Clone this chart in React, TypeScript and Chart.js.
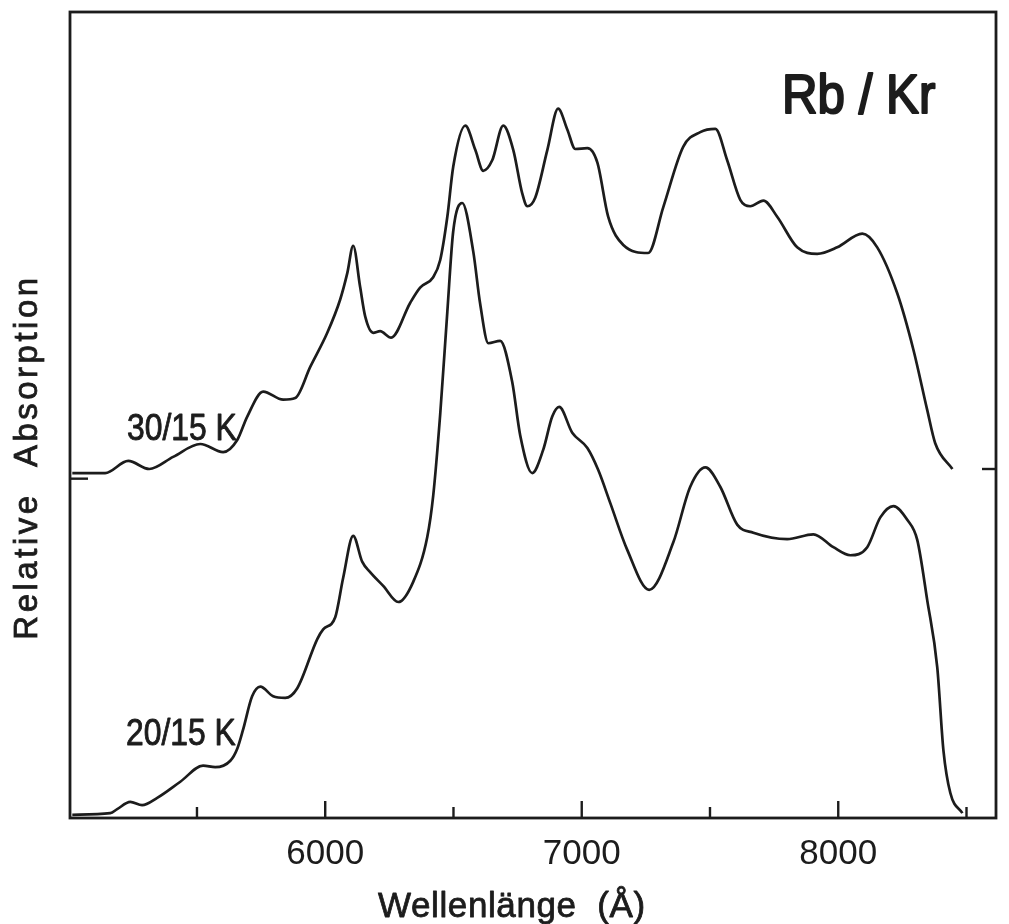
import React, { useEffect, useRef } from "react";
import { Chart, registerables } from "chart.js";

Chart.register(...registerables);

// ---- data ----
const wavelength30 = [5014, 5142, 5232, 5314, 5407, 5513, 5602, 5657, 5696, 5758, 5836, 5883, 5942, 6008, 6058, 6086, 6109, 6136, 6156, 6187, 6214, 6257, 6331, 6370, 6421, 6448, 6476, 6499, 6546, 6585, 6616, 6651, 6694, 6733, 6768, 6788, 6819, 6866, 6908, 6944, 6975, 7022, 7061, 7103, 7162, 7259, 7318, 7396, 7462, 7521, 7567, 7618, 7657, 7708, 7762, 7840, 7918, 7996, 8094, 8152, 8230, 8293, 8347, 8378, 8445];
const absorption30 = [42.8, 42.8, 44.3, 43.3, 44.8, 46.4, 45.4, 46.9, 49.8, 52.9, 51.9, 52.1, 56.0, 60.2, 64.3, 67.6, 71.0, 65.9, 62.2, 60.2, 60.4, 59.6, 63.9, 65.8, 67.1, 69.2, 74.6, 80.8, 85.9, 82.9, 80.3, 81.6, 85.9, 82.9, 77.5, 75.9, 77.0, 82.9, 88.0, 85.4, 83.0, 83.1, 81.3, 74.6, 71.1, 70.1, 75.8, 83.3, 85.1, 85.5, 81.6, 76.7, 75.9, 76.6, 74.6, 70.8, 70.0, 70.8, 72.5, 70.8, 65.1, 58.1, 50.6, 46.5, 43.3];

const wavelength20 = [5014, 5162, 5189, 5240, 5286, 5345, 5435, 5524, 5571, 5630, 5657, 5680, 5715, 5747, 5797, 5844, 5891, 5969, 5992, 6039, 6070, 6109, 6144, 6175, 6226, 6285, 6343, 6398, 6421, 6448, 6476, 6499, 6534, 6577, 6604, 6636, 6682, 6729, 6760, 6807, 6850, 6885, 6912, 6963, 7022, 7064, 7111, 7177, 7263, 7357, 7423, 7482, 7540, 7606, 7669, 7801, 7903, 7981, 8047, 8113, 8164, 8215, 8269, 8308, 8347, 8386, 8410, 8437, 8484];
const absorption20 = [0.4, 0.6, 1.1, 2.0, 1.6, 2.5, 4.5, 6.5, 6.3, 7.1, 8.6, 11.0, 15.1, 16.3, 15.1, 14.9, 16.1, 22.2, 23.4, 24.9, 29.8, 35.0, 31.8, 30.5, 28.8, 26.8, 29.3, 34.9, 40.0, 50.0, 62.8, 72.8, 76.3, 70.3, 63.8, 58.9, 59.2, 54.1, 47.5, 42.8, 45.7, 49.8, 51.0, 47.8, 45.9, 43.2, 39.1, 33.3, 28.3, 34.2, 41.1, 43.5, 41.1, 36.4, 35.4, 34.6, 35.2, 33.6, 32.6, 33.6, 37.3, 38.7, 37.0, 34.5, 27.0, 18.7, 8.4, 3.1, 0.6];

const majorTicks = [6000, 7000, 8000];
const minorTicks = [5500, 6500, 7500, 8500];
const baselineTickLeft = 42.1;
const baselineTickRight = 43.3;

const seriesLabels = ["30/15 K", "20/15 K"];
const chartTitle = "Rb / Kr";
const xTitle = "Wellenlänge  (Å)";
const yTitle = "Relative  Absorption";

const INK = "#1c1c1c";
const FONT = "'Liberation Sans', Arial, sans-serif";

function drawText(ctx: CanvasRenderingContext2D, text: string, x: number, y: number, size: number, sx: number, spacing = 0, thick = 0.8) {
  ctx.save();
  ctx.translate(x, y);
  ctx.scale(sx, 1);
  ctx.font = `normal ${size}px ${FONT}`;
  (ctx as any).letterSpacing = `${spacing}px`;
  ctx.textAlign = "left";
  ctx.textBaseline = "alphabetic";
  ctx.fillStyle = INK;
  ctx.strokeStyle = INK;
  ctx.lineWidth = thick;
  ctx.lineJoin = "round";
  ctx.fillText(text, 0, 0);
  if (thick > 0) ctx.strokeText(text, 0, 0);
  ctx.restore();
}

const decorPlugin = {
  id: "decor",
  afterDraw(chart: any) {
    const { ctx, chartArea: a, scales } = chart;
    const x = scales.x;
    const y = scales.y;
    ctx.save();
    ctx.strokeStyle = INK;
    ctx.lineWidth = 2.8;
    ctx.strokeRect(a.left, a.top, a.right - a.left, a.bottom - a.top);
    const line = (x1: number, y1: number, x2: number, y2: number) => {
      ctx.beginPath();
      ctx.moveTo(x1, y1);
      ctx.lineTo(x2, y2);
      ctx.stroke();
    };
    ctx.lineWidth = 2.4;
    majorTicks.forEach((v) => {
      const px = x.getPixelForValue(v);
      line(px, a.bottom, px, a.bottom - 17);
    });
    minorTicks.forEach((v) => {
      const px = x.getPixelForValue(v);
      line(px, a.bottom, px, a.bottom - 11);
    });
    const yl = y.getPixelForValue(baselineTickLeft);
    line(a.left, yl, a.left + 18, yl);
    const yr = y.getPixelForValue(baselineTickRight);
    line(a.right - 14, yr, a.right, yr);

    drawText(ctx, seriesLabels[0], 127, 440, 37, 0.86, 0, 0.9);
    drawText(ctx, seriesLabels[1], 126, 745, 37, 0.86, 0, 0.9);
    drawText(ctx, chartTitle, 782, 113, 56, 0.88, 0, 2.2);
    drawText(ctx, xTitle, 378, 917, 35, 1, 0.6, 0.8);

    ctx.save();
    ctx.translate(37, 457);
    ctx.rotate(-Math.PI / 2);
    ctx.font = `normal 33px ${FONT}`;
    (ctx as any).letterSpacing = "3.5px";
    ctx.textAlign = "center";
    ctx.textBaseline = "alphabetic";
    ctx.fillStyle = INK;
    ctx.strokeStyle = INK;
    ctx.lineWidth = 0.8;
    ctx.fillText(yTitle, 0, 0);
    ctx.strokeText(yTitle, 0, 0);
    ctx.restore();

    ctx.restore();
  },
};

export default function App() {
  const ref = useRef<HTMLCanvasElement | null>(null);
  useEffect(() => {
    if (!ref.current) return;
    const toPts = (xs: number[], ys: number[]) => xs.map((v, i) => ({ x: v, y: ys[i] }));
    const chart = new Chart(ref.current, {
      type: "line",
      data: {
        datasets: [
          {
            label: seriesLabels[0],
            data: toPts(wavelength30, absorption30),
            borderColor: INK,
            borderWidth: 2.7,
            pointRadius: 0,
            cubicInterpolationMode: "monotone",
            fill: false,
          },
          {
            label: seriesLabels[1],
            data: toPts(wavelength20, absorption20),
            borderColor: INK,
            borderWidth: 2.7,
            pointRadius: 0,
            cubicInterpolationMode: "monotone",
            fill: false,
          },
        ],
      },
      options: {
        responsive: false,
        animation: false,
        devicePixelRatio: 1,
        layout: { padding: { left: 70, top: 12, right: 13, bottom: 0 } },
        plugins: { legend: { display: false }, tooltip: { enabled: false }, title: { display: false } },
        scales: {
          x: {
            type: "linear",
            min: 5005,
            max: 8615,
            grid: { display: false },
            border: { display: false },
            afterBuildTicks: (scale: any) => {
              scale.ticks = [...minorTicks, ...majorTicks].sort((p, q) => p - q).map((v) => ({ value: v }));
            },
            afterFit: (scale: any) => {
              scale.height = 106;
            },
            ticks: {
              autoSkip: false,
              maxRotation: 0,
              padding: 7,
              color: INK,
              font: { family: FONT, size: 35 },
              callback: (v: any) => (majorTicks.includes(Number(v)) ? String(v) : ""),
            },
          },
          y: {
            type: "linear",
            min: 0,
            max: 100,
            display: false,
          },
        },
      },
      plugins: [decorPlugin],
    });
    return () => chart.destroy();
  }, []);
  return (
    <div style={{ position: "absolute", left: 0, top: 0, width: 1009, height: 924, background: "#fff" }}>
      <canvas ref={ref} width={1009} height={924} />
    </div>
  );
}
